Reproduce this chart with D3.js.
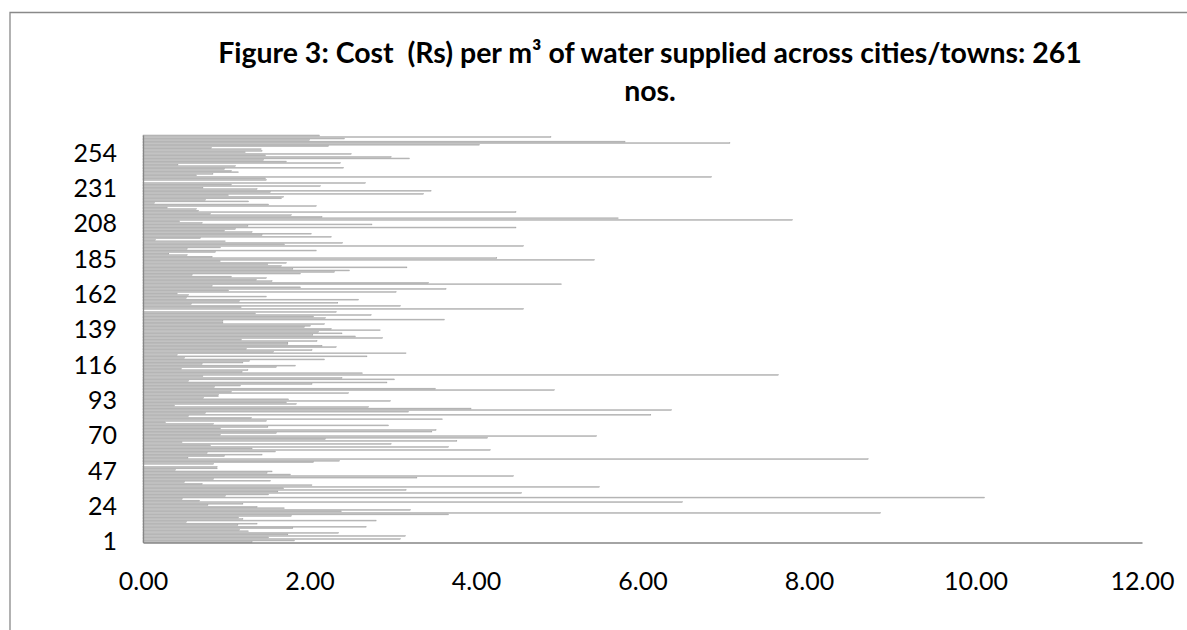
<!DOCTYPE html>
<html>
<head>
<meta charset="utf-8">
<script src="https://cdn.jsdelivr.net/npm/d3@7"></script>
<style>
  body { margin: 0; background: #fff; }
  svg { display: block; }
</style>
</head>
<body>
<svg id="chart"></svg>
<script>
const titleLines = ["Figure 3: Cost  (Rs) per m\u00b3 of water supplied across cities/towns: 261", "nos."];
const xTicks = [0, 2, 4, 6, 8, 10, 12];

const costTopDown = [
  2.12, 4.90, 2.42, 2.00, 5.79, 7.05, 4.04, 2.23, 0.82, 1.42, 1.43, 1.23, 2.50, 1.47, 2.98, 3.20, 1.45, 1.72, 2.37, 0.42, 1.11, 2.41, 0.98, 1.06,
  1.15, 0.84, 0.64, 6.83, 1.47, 1.48, 0, 2.67, 1.06, 2.13, 0.72, 1.37, 3.46, 1.53, 3.37, 1.03, 1.69, 1.66, 0.75, 1.27, 0.14, 1.51, 2.08, 0.29, 0.64, 0.67,
  4.48, 0.81, 1.78, 2.15, 5.71, 7.80, 0.44, 0.71, 2.75, 1.26, 4.48, 1.11, 0.98, 1.31, 2.02, 1.43, 2.26, 0.69, 0.15, 0.99, 2.40, 1.70, 4.57, 0.93, 0.53, 2.08,
  0.87, 0.31, 0.53, 0.83, 4.25, 5.42, 0.93, 1.72, 1.50, 1.66, 3.17, 1.80, 2.48, 2.30, 1.89, 0.59, 1.06, 1.48, 1.36, 1.55, 3.43, 5.03, 0.83, 1.89, 3.64, 1.03, 3.04,
  0.41, 0.55, 1.48, 0.52, 2.59, 1.16, 2.34, 0.58, 3.09, 1.18, 4.57, 0, 2.32, 1.35, 2.74, 2.05, 2.19, 3.62, 0.96, 0.96, 2.18, 2.01, 1.94, 2.26, 2.85,
  2.11, 2.39, 2.04, 2.55, 2.88, 1.18, 2.09, 1.74, 1.74, 2.15, 2.32, 1.24, 2.03, 1.57, 3.16, 0.41, 2.69, 0.50, 2.18, 1.28, 1.20, 0.71, 1.83, 1.60, 0.46, 1.26,
  1.19, 2.64, 7.63, 0.72, 2.39, 3.02, 0.55, 2.93, 2.03, 1.17, 0.86, 3.51, 4.94, 1.06, 2.47, 0.91, 0.91, 0.73, 1.75, 2.97, 1.72, 1.84, 0.38, 2.71, 3.94, 6.35, 3.19,
  0.75, 6.10, 0.55, 1.30, 3.60, 1.48, 0.27, 0.85, 2.95, 1.50, 0.93, 3.52, 3.47, 1.60, 0.93, 5.45, 4.14, 2.19, 3.77, 0.47, 2.98, 0.81, 3.67, 1.31, 4.17, 1.59,
  0.77, 1.43, 0.98, 0.54, 8.71, 2.36, 2.05, 0.85, 0, 0.89, 0.89, 0.39, 1.55, 1.49, 1.77, 4.45, 3.29, 0.85, 1.53, 0.50, 0.71, 2.03, 5.48, 1.69, 3.16, 1.62, 4.55,
  1.51, 0.99, 10.11, 0.47, 0.68, 6.48, 1.20, 0.78, 1.37, 1.70, 3.21, 2.38, 8.86, 3.67, 1.78, 1.15, 1.20, 2.80, 0.52, 1.37, 1.14, 2.68, 1.80, 1.16, 1.27, 2.35, 1.74, 3.15, 1.51, 3.09, 1.82, 1.31
];
const cost = costTopDown.slice().reverse();
const towns = cost.map((d, i) => i + 1);
const townTicks = d3.range(1, towns.length + 1, 23);

const width = 1187, height = 630;
const plot = {left: 143, right: 1142, top: 135, bottom: 542.5};
const font = "Lato, 'Open Sans', sans-serif";

const svg = d3.select("#chart")
    .attr("width", width)
    .attr("height", height)
    .style("font-family", font);

// chart area border (only top and left show in the frame)
svg.append("path")
    .attr("d", `M10,${height} V12.5 H${width}`)
    .attr("fill", "none")
    .attr("stroke", "#898989")
    .attr("stroke-width", 1.3);

const x = d3.scaleLinear()
    .domain([0, 12])
    .range([plot.left, plot.right]);

const y = d3.scaleBand()
    .domain(towns)
    .range([plot.bottom, plot.top])
    .paddingInner(0.4);

svg.append("g")
    .selectAll("rect")
    .data(towns)
    .join("rect")
    .attr("x", x(0))
    .attr("y", d => y(d))
    .attr("width", d => x(cost[d - 1]) - x(0))
    .attr("height", y.bandwidth())
    .attr("fill", "#d6d6d6")
    .attr("stroke", "#8e8e8e")
    .attr("stroke-width", 0.4);

const xAxis = svg.append("g")
    .attr("transform", `translate(0,${plot.bottom})`)
    .call(d3.axisBottom(x).tickValues(xTicks).tickFormat(d3.format(".2f")).tickSize(0).tickPadding(30));

const yAxis = svg.append("g")
    .attr("transform", `translate(${plot.left},0)`)
    .call(d3.axisLeft(y).tickValues(townTicks).tickSize(0).tickPadding(26));

[xAxis, yAxis].forEach(g => {
    g.select(".domain").attr("stroke", "#868686").attr("stroke-width", 1.3);
    g.selectAll("text")
        .attr("fill", "#000")
        .style("font-family", font)
        .style("font-size", "25px");
});

// title, two lines, sized to the reference's width
const title = svg.append("text")
    .attr("text-anchor", "middle")
    .style("font-weight", "bold")
    .style("font-size", "24px")
    .style("white-space", "pre");

title.selectAll("tspan")
    .data(titleLines)
    .join("tspan")
    .attr("x", 650)
    .attr("y", (d, i) => i === 0 ? 63 : 101)
    .text(d => d);

const firstLen = title.select("tspan").node().getComputedTextLength();
title.style("font-size", (24 * 864 / firstLen).toFixed(2) + "px");
</script>
</body>
</html>
